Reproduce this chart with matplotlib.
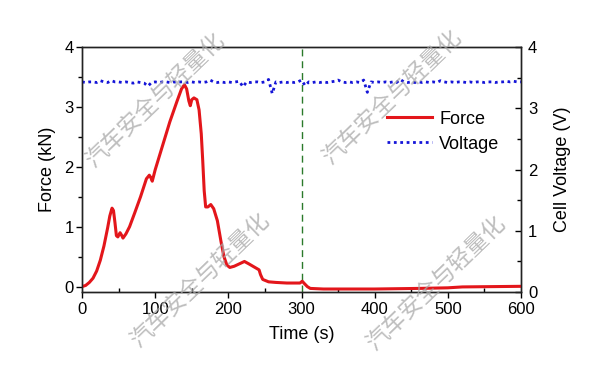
import numpy as np
import matplotlib
matplotlib.use("Agg")
import matplotlib.pyplot as plt
from matplotlib.ticker import MultipleLocator

plt.rcParams['font.family'] = ['Liberation Sans', 'DejaVu Sans']

# Force data (time s, force kN)
force_t = [0, 5, 10, 15, 20, 25, 30, 35, 38, 41, 43, 45, 47, 49, 52, 54, 56, 60, 65, 72,
           80, 88, 92, 94, 96, 100, 110, 120, 130, 136, 140, 143, 146, 148, 150, 153, 157,
           160, 163, 165, 167, 169, 172, 176, 180, 185, 190, 194, 198, 202, 208, 215, 222,
           228, 235, 242, 244, 247, 255, 265, 280, 298, 301, 304, 308, 312, 330, 400, 460,
           500, 520, 560, 600]
force_v = [0.0, 0.02, 0.07, 0.14, 0.26, 0.44, 0.68, 0.98, 1.18, 1.31, 1.27, 1.07, 0.85, 0.83,
           0.90, 0.86, 0.81, 0.88, 1.00, 1.23, 1.50, 1.80, 1.86, 1.82, 1.76, 1.95, 2.35, 2.75,
           3.10, 3.30, 3.37, 3.30, 3.10, 3.02, 3.12, 3.15, 3.12, 2.95, 2.55, 2.10, 1.60, 1.33,
           1.33, 1.37, 1.30, 1.10, 0.75, 0.50, 0.36, 0.32, 0.34, 0.38, 0.42, 0.38, 0.33, 0.28,
           0.20, 0.12, 0.08, 0.07, 0.06, 0.06, 0.09, 0.05, 0.0, -0.03, -0.04, -0.04, -0.03,
           -0.02, -0.005, 0.0, 0.005]

# Voltage data (sampled every 5 s)
volt_t = np.arange(0, 601, 5)
volt_v = [3.43, 3.42, 3.43, 3.43, 3.42, 3.45, 3.43, 3.42, 3.45, 3.43,
          3.43, 3.42, 3.43, 3.42, 3.41, 3.43, 3.42, 3.41, 3.36, 3.42,
          3.43, 3.42, 3.43, 3.43, 3.42, 3.43, 3.42, 3.43, 3.43, 3.42,
          3.43, 3.42, 3.43, 3.42, 3.43, 3.46, 3.43, 3.42, 3.43, 3.42,
          3.43, 3.42, 3.43, 3.44, 3.35, 3.43, 3.42, 3.43, 3.43, 3.42,
          3.43, 3.47, 3.24, 3.43, 3.42, 3.43, 3.42, 3.43, 3.42, 3.43,
          3.46, 3.37, 3.43, 3.42, 3.43, 3.42, 3.43, 3.42, 3.43, 3.44,
          3.46, 3.43, 3.42, 3.43, 3.42, 3.43, 3.42, 3.46, 3.26, 3.43,
          3.42, 3.43, 3.42, 3.43, 3.42, 3.43, 3.42, 3.47, 3.43, 3.42,
          3.43, 3.42, 3.43, 3.42, 3.43, 3.42, 3.43, 3.42, 3.45, 3.43,
          3.42, 3.43, 3.42, 3.43, 3.43, 3.42, 3.43, 3.42, 3.43, 3.43,
          3.42, 3.43, 3.43, 3.42, 3.43, 3.43, 3.44, 3.43, 3.44, 3.43,
          3.43]

event_t = 300
watermark = "汽车安全与轻量化"

fig = plt.figure(figsize=(6, 3.75), dpi=100)
ax = fig.add_axes([0.1367, 0.2213, 0.7316, 0.6534])
ax2 = ax.twinx()

l1, = ax.plot(force_t, force_v, color='#e3161b', lw=2.2, label='Force', zorder=3)
ax.axvline(event_t, color='#2a7a2a', lw=1.0, ls=(0, (5, 3.5)), zorder=2)
l2, = ax2.plot(volt_t, volt_v, color='#1515d8', lw=2.0, ls=(0, (1, 1.3)), label='Voltage')

ax.set_xlim(0, 600)
ax.set_ylim(-0.09, 4)
ax2.set_ylim(0, 4)

ax.xaxis.set_major_locator(MultipleLocator(100))
ax.xaxis.set_minor_locator(MultipleLocator(50))
ax.yaxis.set_major_locator(MultipleLocator(1))
ax.yaxis.set_minor_locator(MultipleLocator(0.5))
ax2.yaxis.set_major_locator(MultipleLocator(1))
ax2.yaxis.set_minor_locator(MultipleLocator(0.5))

ax.tick_params(axis='x', which='major', direction='out', length=4, width=1, labelsize=12, top=False, pad=3)
ax.tick_params(axis='x', which='minor', direction='in', length=3, width=1, top=False)
ax.tick_params(axis='y', which='major', direction='out', length=4, width=1, labelsize=12, right=False, pad=2)
ax.tick_params(axis='y', which='minor', direction='out', length=3, width=1, right=False)
ax2.tick_params(axis='y', which='major', direction='in', length=4, width=1, labelsize=12, pad=5)
ax2.tick_params(axis='y', which='minor', direction='in', length=3, width=1)

for a in (ax, ax2):
    for s in a.spines.values():
        s.set_linewidth(1.0)
        s.set_color('#222222')

ax.set_xlabel('Time (s)', fontsize=13, labelpad=7)
ax.set_ylabel('Force (kN)', fontsize=13, labelpad=6)
ax2.set_ylabel('Cell Voltage (V)', fontsize=13, labelpad=12)

fig.legend([l1, l2], ['Force', 'Voltage'], loc='upper left',
           bbox_to_anchor=(0.645, 0.705), frameon=False, fontsize=13,
           handlelength=2.5, handletextpad=0.4, borderpad=0, labelspacing=0.45,
           borderaxespad=0)

wm_pos = [(155, 100), (200, 280), (392, 97), (436, 283)]
for (px, py) in wm_pos:
    fig.text(px / 600, 1 - py / 375, watermark, rotation=44, ha='center', va='center',
             fontsize=16.5, color='#a8a8a8', alpha=0.75,
             family=['Noto Sans CJK SC', 'DejaVu Sans'], zorder=10)

fig.savefig('out.png', dpi=100)
